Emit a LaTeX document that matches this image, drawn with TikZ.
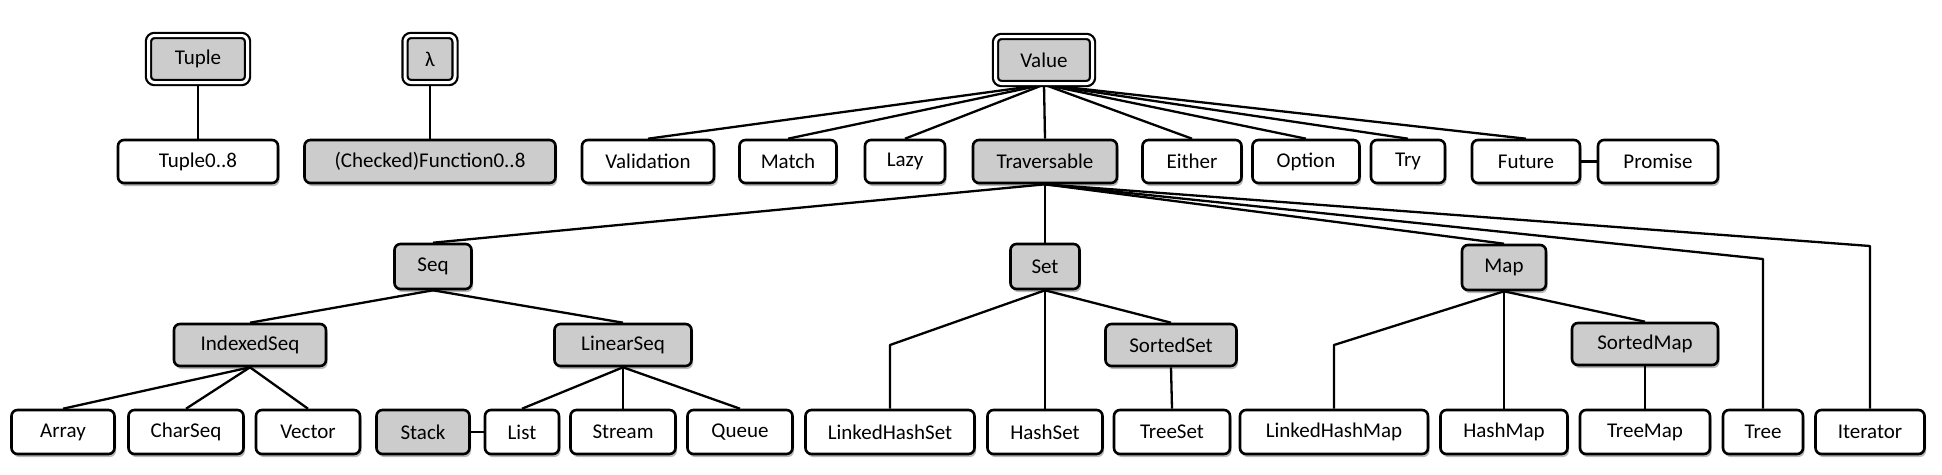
\documentclass[tikz,border=0pt]{standalone}
\usepackage{fontspec}
\setmainfont{Carlito}
\usetikzlibrary{shadows,backgrounds}
\begin{document}
\begin{tikzpicture}[x=1pt,y=-1pt,
  box/.style={draw=black, line width=2.6pt, rounded corners=6pt, fill=white, inner sep=0pt,
    font=\fontsize{21}{24}\selectfont,
    drop shadow={shadow xshift=1.5pt, shadow yshift=-3pt, fill=black, opacity=0.28}},
  gbox/.style={box, fill=black!20},
  dbox/.style={gbox, double=white, double distance=3pt, line width=2.2pt},
  conn/.style={line width=2.3pt, line join=round}]
\useasboundingbox (0,0) rectangle (1942,474);
% row 1
\node[dbox, minimum width=99, minimum height=47] (Tuple) at (198,59) {Tuple};
\node[dbox, minimum width=50, minimum height=47] (Lambda) at (430,59) {λ};
\node[dbox, minimum width=97, minimum height=47] (Value) at (1044,60) {Value};
% row 2
\node[box, minimum width=160, minimum height=43] (Tuple08) at (198,161.5) {Tuple0..8};
\node[gbox, minimum width=251, minimum height=43] (Func) at (430,161.5) {(Checked)Function0..8};
\node[box, minimum width=132, minimum height=43] (Valid) at (648,161.5) {Validation};
\node[box, minimum width=97, minimum height=43] (Match) at (788,161.5) {Match};
\node[box, minimum width=80, minimum height=43] (Lazy) at (905,161.5) {Lazy};
\node[gbox, minimum width=144, minimum height=43] (Trav) at (1045,161.5) {Traversable};
\node[box, minimum width=99, minimum height=43] (Either) at (1192,161.5) {Either};
\node[box, minimum width=107, minimum height=43] (Option) at (1306,161.5) {Option};
\node[box, minimum width=74, minimum height=43] (Try) at (1408,161.5) {Try};
\node[box, minimum width=108, minimum height=43] (Future) at (1526,161.5) {Future};
\node[box, minimum width=120, minimum height=43] (Promise) at (1658,161.5) {Promise};
% row 3
\node[gbox, minimum width=77, minimum height=45] (Seq) at (433,266.5) {Seq};
\node[gbox, minimum width=69, minimum height=45] (Set) at (1045,266.5) {Set};
\node[gbox, minimum width=84, minimum height=45] (Map) at (1504,267.5) {Map};
% row 4
\node[gbox, minimum width=152, minimum height=42] (ISeq) at (250,345) {IndexedSeq};
\node[gbox, minimum width=137, minimum height=42] (LSeq) at (623,345) {LinearSeq};
\node[gbox, minimum width=131, minimum height=42] (SSet) at (1171,345) {SortedSet};
\node[gbox, minimum width=146, minimum height=42] (SMap) at (1645,344) {SortedMap};
% row 5
\node[box, minimum width=103, minimum height=44] (Array) at (63,432) {Array};
\node[box, minimum width=115, minimum height=44] (CharSeq) at (186,432) {CharSeq};
\node[box, minimum width=104, minimum height=44] (Vector) at (308,432) {Vector};
\node[gbox, minimum width=93, minimum height=44] (Stack) at (423,432) {Stack};
\node[box, minimum width=74, minimum height=44] (List) at (522,432) {List};
\node[box, minimum width=105, minimum height=44] (Stream) at (623,432) {Stream};
\node[box, minimum width=105, minimum height=44] (Queue) at (740,432) {Queue};
\node[box, minimum width=169, minimum height=44] (LHS) at (890,432) {LinkedHashSet};
\node[box, minimum width=115, minimum height=44] (HSet) at (1045,432) {HashSet};
\node[box, minimum width=116, minimum height=44] (TSet) at (1172,432) {TreeSet};
\node[box, minimum width=188, minimum height=44] (LHM) at (1334,432) {LinkedHashMap};
\node[box, minimum width=127, minimum height=44] (HMap) at (1504,432) {HashMap};
\node[box, minimum width=130, minimum height=44] (TMap) at (1645,432) {TreeMap};
\node[box, minimum width=80, minimum height=44] (Tree) at (1763,432) {Tree};
\node[box, minimum width=109, minimum height=44] (Iter) at (1870,432) {Iterator};
% bend points
\coordinate (bLHS) at (890,345);
\coordinate (bLHM) at (1334,345);
\coordinate (bTree) at (1763,259);
\coordinate (bIter) at (1870,246);
\begin{scope}[on background layer]
\draw[conn] (Tuple.south) -- (Tuple08.north);
\draw[conn] (Lambda.south) -- (Func.north);
\foreach \c in {Valid,Match,Lazy,Trav,Either,Option,Try,Future}
  \draw[conn] (Value.south) -- (\c.north);
\draw[conn] (Future.east) -- (Promise.west);
\draw[conn] (Trav.south) -- (Seq.north);
\draw[conn] (Trav.south) -- (Set.north);
\draw[conn] (Trav.south) -- (Map.north);
\draw[conn] (Trav.south) -- (bTree) -- (Tree.north);
\draw[conn] (Trav.south) -- (bIter) -- (Iter.north);
\draw[conn] (Seq.south) -- (ISeq.north);
\draw[conn] (Seq.south) -- (LSeq.north);
\foreach \c in {Array,CharSeq,Vector}
  \draw[conn] (ISeq.south) -- (\c.north);
\foreach \c in {List,Stream,Queue}
  \draw[conn] (LSeq.south) -- (\c.north);
\draw[conn] (Stack.east) -- (List.west);
\draw[conn] (Set.south) -- (bLHS) -- (LHS.north);
\draw[conn] (Set.south) -- (HSet.north);
\draw[conn] (Set.south) -- (SSet.north);
\draw[conn] (SSet.south) -- (TSet.north);
\draw[conn] (Map.south) -- (bLHM) -- (LHM.north);
\draw[conn] (Map.south) -- (HMap.north);
\draw[conn] (Map.south) -- (SMap.north);
\draw[conn] (SMap.south) -- (TMap.north);
\end{scope}
\end{tikzpicture}
\end{document}
